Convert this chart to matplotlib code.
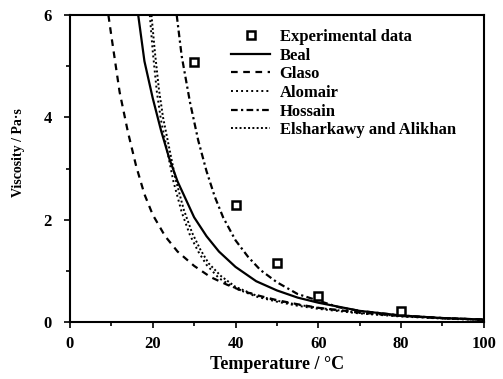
import matplotlib
matplotlib.use("Agg")
import matplotlib.pyplot as plt
from matplotlib.ticker import MultipleLocator

plt.rcParams['font.family'] = ['Liberation Serif', 'DejaVu Serif']
plt.rcParams['font.weight'] = 'bold'

# Experimental data
exp_T = [30, 40, 50, 60, 80]
exp_mu = [5.08, 2.29, 1.16, 0.52, 0.21]

# Model curves
beal_T = [16.5, 18, 20, 22, 24, 26, 28, 30, 33, 36, 40, 45, 50, 55, 60, 70, 80, 90, 100]
beal_mu = [6.0, 5.1, 4.38, 3.75, 3.2, 2.75, 2.4, 2.05, 1.68, 1.38, 1.08, 0.8, 0.62,
           0.48, 0.38, 0.22, 0.13, 0.08, 0.05]

glaso_T = [9.3, 10, 12, 14, 16, 18, 20, 23, 26, 30, 34, 38, 42, 46, 50, 55, 60, 70, 80, 90, 100]
glaso_mu = [6.0, 5.6, 4.5, 3.72, 3.05, 2.5, 2.1, 1.68, 1.38, 1.1, 0.88, 0.73, 0.6, 0.51,
            0.43, 0.35, 0.28, 0.19, 0.12, 0.08, 0.05]

alomair_T = [19.3, 20, 21, 22, 23.5, 25, 27, 29, 31, 33, 36, 40, 45, 50, 55, 60, 70, 80, 90, 100]
alomair_mu = [6.0, 5.3, 4.5, 3.95, 3.35, 2.75, 2.15, 1.7, 1.38, 1.12, 0.86, 0.66, 0.5,
              0.4, 0.32, 0.26, 0.17, 0.11, 0.07, 0.04]

hossain_T = [25.8, 27, 29, 31, 33, 35, 37, 40, 43, 46, 50, 55, 60, 65, 70, 80, 90, 100]
hossain_mu = [6.0, 5.2, 4.3, 3.55, 2.95, 2.45, 2.05, 1.6, 1.28, 1.02, 0.78, 0.55, 0.42,
              0.29, 0.22, 0.13, 0.08, 0.05]

elsh_T = [19.7, 20.5, 21.5, 22.5, 24, 25.5, 27.5, 29.5, 31.5, 33.5, 36.5, 40, 45, 50, 55,
          60, 70, 80, 90, 100]
elsh_mu = [6.0, 5.3, 4.55, 4.0, 3.4, 2.8, 2.2, 1.75, 1.42, 1.15, 0.9, 0.69, 0.52, 0.42,
           0.34, 0.28, 0.18, 0.12, 0.075, 0.045]

fig = plt.figure(figsize=(5.03, 3.79), dpi=100)
ax = fig.add_axes([0.139, 0.150, 0.823, 0.810])

ax.plot(exp_T, exp_mu, 's', ms=5.5, mfc='white', mec='black', mew=1.8,
        label='Experimental data', zorder=5)
ax.plot(beal_T, beal_mu, '-', color='black', lw=1.6, label='Beal')
ax.plot(glaso_T, glaso_mu, color='black', lw=1.6, dashes=(3, 2.5), label='Glaso')
ax.plot(alomair_T, alomair_mu, color='black', lw=1.4, dashes=(1, 1.6), label='Alomair')
ax.plot(hossain_T, hossain_mu, color='black', lw=1.6, dashes=(3, 1.5, 1, 1.5), label='Hossain')
ax.plot(elsh_T, elsh_mu, color='black', lw=1.4, dashes=(1, 1.2),
        label='Elsharkawy and Alikhan')

ax.set_xlim(0, 100)
ax.set_ylim(0, 6)
ax.xaxis.set_major_locator(MultipleLocator(20))
ax.xaxis.set_minor_locator(MultipleLocator(10))
ax.yaxis.set_major_locator(MultipleLocator(2))
ax.yaxis.set_minor_locator(MultipleLocator(1))
ax.tick_params(which='both', direction='out', width=1.2, labelsize=12)
ax.tick_params(which='major', length=4)
ax.tick_params(which='minor', length=3)
ax.tick_params(axis='y', pad=9)
ax.tick_params(axis='x', pad=6)
for s in ax.spines.values():
    s.set_linewidth(1.5)

ax.set_xlabel('Temperature / °C', fontsize=13, fontweight='bold')
ax.xaxis.set_label_coords(0.5, -0.11)
ax.set_ylabel('Viscosity / Pa·s', fontsize=10, fontweight='bold')
ax.yaxis.set_label_coords(-0.108, 0.554)

ax.legend(loc='upper left', bbox_to_anchor=(0.39, 0.955), frameon=False,
          fontsize=12, handlelength=2.3, handletextpad=0.6, labelspacing=0.16,
          borderpad=0, borderaxespad=0)

fig.savefig('out.png', dpi=100)
